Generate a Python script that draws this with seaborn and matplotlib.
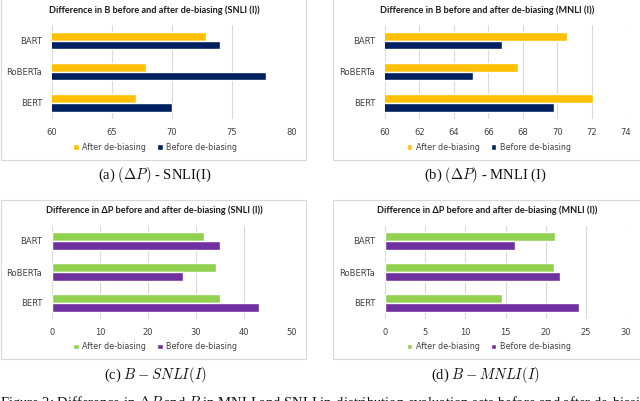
import matplotlib
matplotlib.use("Agg")
import matplotlib.pyplot as plt
from matplotlib.patches import Rectangle
import pandas as pd
import seaborn as sns

models = ["BART", "RoBERTa", "BERT"]
stages = ["After de-biasing", "Before de-biasing"]

# (a) B, SNLI(I)
a_after = [72.8, 67.8, 67.0]
a_before = [74.0, 77.8, 70.0]
# (b) B, MNLI(I)
b_after = [70.6, 67.7, 72.1]
b_before = [66.8, 65.1, 69.8]
# (c) delta P, SNLI(I)
c_after = [31.6, 34.1, 35.1]
c_before = [34.9, 27.2, 43.1]
# (d) delta P, MNLI(I)
d_after = [21.2, 21.0, 14.6]
d_before = [16.2, 21.8, 24.1]

sns.set_theme(style="white")
plt.rcParams["font.family"] = ["DejaVu Sans"]
plt.rcParams["mathtext.fontset"] = "cm"

W, H = 640, 401
fig = plt.figure(figsize=(6.4, 4.01), dpi=100)


def px(x0, y_top, w, h):
    return [x0 / W, 1 - (y_top + h) / H, w / W, h / H]


def panel(rect, after, before, xlim, ticks, colors, title):
    df = pd.DataFrame({
        "model": models * 2,
        "value": after + before,
        "stage": [stages[0]] * 3 + [stages[1]] * 3,
    })
    ax = fig.add_axes(rect)
    sns.barplot(data=df, y="model", x="value", hue="stage", orient="h",
                palette=colors, width=0.56, ax=ax, saturation=1)
    ax.set_xlim(*xlim)
    ax.set_xticks(ticks)
    ax.grid(axis="x", color="#d9d9d9", lw=0.8)
    ax.set_axisbelow(True)
    sns.despine(ax=ax, left=True, bottom=True)
    ax.set_xlabel(""); ax.set_ylabel("")
    ax.tick_params(length=0, labelsize=6, colors="#404040", pad=7)
    ax.set_title(title, fontsize=6.6, fontweight="bold", color="#1a1a1a",
                 family="Lato", x=0.425, y=1.0, pad=9)
    ax.legend(loc="center", bbox_to_anchor=(0.43, -0.305), ncol=2,
              frameon=False, fontsize=5.8, handlelength=0.7, handleheight=0.7,
              handletextpad=0.4, columnspacing=1.4, labelcolor="#404040")
    return ax


# chart-area frames
for (x0, y0, w, h) in [(1, -2, 305, 162), (333, -2, 310, 162),
                       (1, 200, 305, 159), (333, 200, 310, 159)]:
    fig.patches.append(Rectangle((x0 / W, 1 - (y0 + h) / H), w / W, h / H,
                                 transform=fig.transFigure, fill=False,
                                 ec="#d9d9d9", lw=0.8))

yellow_navy = ["#FFC000", "#002060"]
green_purple = ["#92D050", "#7030A0"]

panel(px(52, 25, 240, 93.5), a_after, a_before, (60, 80), [60, 65, 70, 75, 80],
      yellow_navy, "Difference in B before and after de-biasing (SNLI (I))")
panel(px(385, 25, 241, 93.5), b_after, b_before, (60, 74), list(range(60, 75, 2)),
      yellow_navy, "Difference in B before and after de-biasing (MNLI (I))")
panel(px(52, 225.5, 240, 93), c_after, c_before, (0, 50), list(range(0, 51, 10)),
      green_purple, "Difference in ΔP before and after de-biasing (SNLI (I))")
panel(px(385, 225.5, 241, 93), d_after, d_before, (0, 30), list(range(0, 31, 5)),
      green_purple, "Difference in ΔP before and after de-biasing (MNLI (I))")

cap = dict(fontsize=10.5, family="Liberation Serif", ha="center", va="center",
           color="#111111")
fig.text(155 / W, 1 - 175 / H, r"(a) $(\Delta P)$ - SNLI(I)", **cap)
fig.text(485 / W, 1 - 175 / H, r"(b) $(\Delta P)$ - MNLI (I)", **cap)
fig.text(155 / W, 1 - 375 / H, r"(c) $B - SNLI(I)$", **cap)
fig.text(485 / W, 1 - 375 / H, r"(d) $B - MNLI(I)$", **cap)
fig.text(0.0, 1 - 403 / H,
         r"Figure 2: Difference in $\Delta P$ and $B$ in MNLI and SNLI in-distribution evaluation sets before and after de-biasing",
         fontsize=10.5, family="Liberation Serif", ha="left", va="center",
         color="#111111")

fig.savefig("out.png", dpi=100)
